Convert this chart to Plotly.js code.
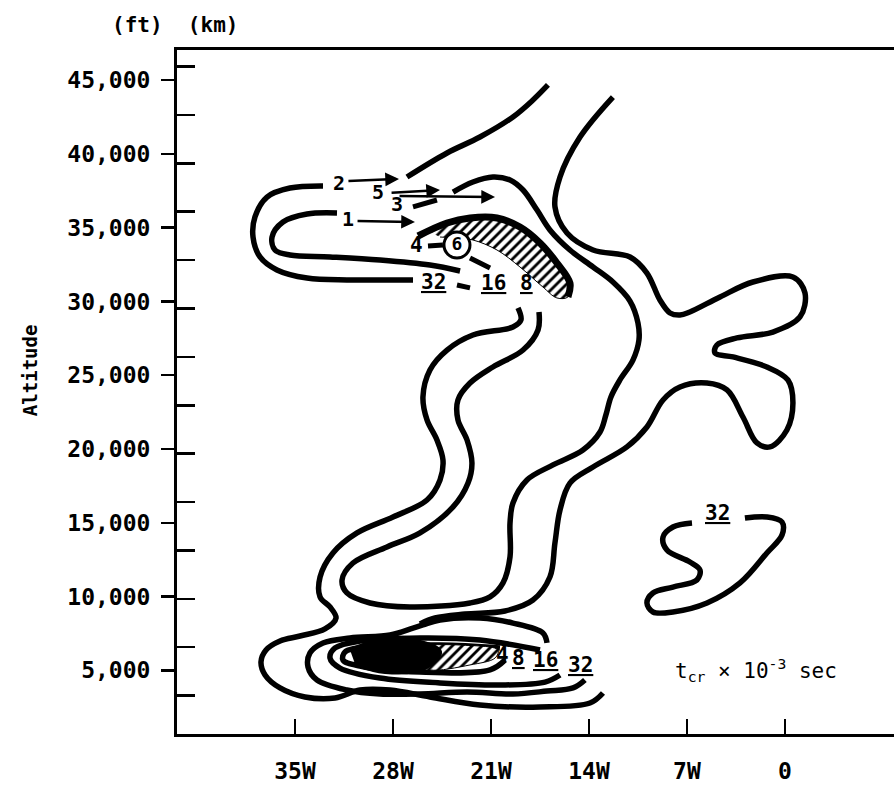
<!DOCTYPE html>
<html><head><meta charset="utf-8">
<script src="https://cdn.plot.ly/plotly-3.0.1.min.js"></script>
<style>html,body{margin:0;padding:0;background:#fff}#chart{width:894px;height:785px}</style>
</head><body><div id="chart"></div>
<script>
// ---------- axis ticks ----------
const lonTicks = [-35, -28, -21, -14, -7, 0];
const lonLabels = ['35W', '28W', '21W', '14W', '7W', '0'];
const altTicks = [5, 10, 15, 20, 25, 30, 35, 40, 45];          // thousand ft
const altLabels = ['5,000', '10,000', '15,000', '20,000', '25,000', '30,000', '35,000', '40,000', '45,000'];
const kmTicks = [1, 2, 3, 4, 5, 6, 7, 8, 9, 10, 11, 12, 13, 14];

// ---------- contour strokes (longitude deg, altitude thousand ft) ----------
const topArcLon = [-27.0, -24.14, -21.79, -19.43, -18.0, -16.93];
const topArcAlt = [38.44, 40.07, 41.15, 42.51, 43.66, 44.68];

const hook32Lon = [-33.0, -35.36, -37.0, -37.86, -38.0, -37.5, -36.29, -34.14, -31.29, -28.93, -26.57];
const hook32Alt = [37.83, 37.69, 37.08, 35.73, 34.37, 33.02, 32.14, 31.59, 31.46, 31.46, 31.46];

const hook16Lon = [-32.0, -34.14, -35.86, -36.64, -36.43, -35.36, -32.5, -28.93, -25.36, -23.21];
const hook16Alt = [36.0, 35.93, 35.39, 34.37, 33.49, 33.15, 33.02, 32.81, 32.47, 32.07];

const core8Lon = [-23.71, -22.29, -20.86, -19.64, -18.71, -17.71, -16.79, -15.36, -13.71, -12.29, -11.07, -10.5, -10.43, -10.86, -11.79, -12.43, -12.79, -13.21, -14.43, -16.57, -18.43, -19.43, -19.64, -19.64, -20.14, -21.07, -22.5, -26.79, -29.64, -31.29, -31.64, -30.86, -28.43, -26.07, -23.71, -22.64, -22.36, -22.71, -23.36, -23.36, -22.5, -20.86, -18.71, -17.64, -17.57];
const core8Alt = [37.42, 38.10, 38.44, 38.24, 37.56, 36.20, 34.85, 33.49, 32.34, 31.32, 30.03, 28.54, 27.39, 26.03, 24.68, 23.53, 22.31, 21.15, 19.93, 18.92, 17.90, 16.34, 14.98, 12.68, 10.92, 9.97, 9.56, 9.29, 9.56, 10.24, 11.12, 12.27, 13.36, 14.31, 16.07, 17.69, 19.05, 20.61, 21.97, 23.32, 24.47, 25.56, 26.71, 28.07, 29.29];

const west16Lon = [-19.07, -18.86, -19.43, -22.29, -24.14, -25.36, -25.86, -25.57, -24.86, -24.43, -24.64, -25.57, -28.0, -30.57, -32.29, -33.21, -33.21, -32.5, -32.07, -32.86, -34.64, -36.07, -37.07, -37.43, -37.14, -36.07, -34.29, -32.14, -30.36, -28.21, -25.36, -21.79, -17.5, -13.93, -13.0];
const west16Alt = [29.56, 28.75, 28.27, 27.73, 26.71, 25.36, 23.53, 21.97, 20.61, 19.25, 17.90, 16.54, 15.39, 14.31, 12.95, 11.32, 9.97, 9.29, 8.54, 7.80, 7.32, 6.98, 6.37, 5.56, 4.68, 3.80, 3.19, 3.12, 3.66, 3.66, 3.19, 2.64, 2.51, 2.78, 3.46];

const east32Lon = [-12.29, -14.64, -16.07, -16.43, -15.57, -13.71, -11.07, -9.86, -8.93, -8.21, -7.5, -6.79, -4.64, -2.29, 0.57, 1.43, 1.07, -0.86, -3.43, -4.86, -5.0, -3.71, -1.29, 0.21, 0.57, 0.14, -1.07, -2.0, -3.0, -4.14, -5.57, -7.5, -8.71, -9.86, -11.29, -13.71, -15.36, -16.07, -16.43, -16.79, -18.0, -20.0, -22.86, -25.0, -26.07];
const east32Alt = [43.86, 41.15, 38.44, 36.41, 34.64, 33.49, 33.02, 31.93, 30.10, 29.22, 29.08, 29.29, 30.31, 31.32, 31.66, 30.58, 28.95, 27.93, 27.53, 27.05, 26.51, 26.24, 25.56, 24.68, 23.12, 21.29, 20.14, 20.41, 22.17, 24.0, 24.47, 24.20, 23.32, 21.49, 20.14, 18.78, 17.69, 15.86, 13.63, 11.32, 9.76, 9.02, 8.81, 8.54, 8.14];

const low16Lon = [-14.29, -15.14, -17.0, -19.43, -22.71, -26.07, -28.93, -31.29, -33.43, -34.07, -33.93, -33.0, -31.07, -28.21, -26.57, -25.86, -24.64, -21.79, -19.43, -17.29, -17.0];
const low16Alt = [4.34, 3.80, 3.59, 3.39, 3.53, 3.39, 3.39, 3.66, 4.34, 5.22, 6.17, 6.85, 7.19, 7.39, 7.86, 8.07, 8.41, 8.54, 8.20, 7.53, 6.85];

const low8Lon = [-17.5, -21.79, -26.07, -30.36, -32.14, -32.5, -31.79, -28.93, -24.64, -20.36, -17.14, -16.07];
const low8Alt = [6.37, 7.05, 7.19, 6.98, 6.51, 5.83, 5.15, 4.47, 4.14, 4.0, 4.20, 4.68];

const low4Lon = [-20.36, -24.64, -29.64, -31.43, -31.57, -30.36, -26.07, -21.07, -20.0];
const low4Alt = [6.51, 6.71, 6.58, 6.24, 5.69, 5.29, 4.88, 5.02, 5.69];

const isle32Lon = [-6.64, -8.0, -8.71, -8.43, -6.79, -6.07, -6.29, -8.0, -9.43, -9.86, -9.43, -8.0, -5.57, -3.21, -1.29, -0.21, -0.21, -1.29, -2.86];
const isle32Alt = [14.98, 14.71, 14.03, 13.15, 12.34, 11.80, 11.12, 10.64, 10.24, 9.56, 8.95, 8.95, 9.56, 10.92, 12.95, 14.17, 15.05, 15.39, 15.32];

// short contour fragments [lon0, lon1], [alt0, alt1]
const dashLon = [[-26.57, -24.86], [-25.5, -24.43], [-22.5, -21.07], [-23.43, -22.5]];
const dashAlt = [[36.41, 36.88], [33.76, 33.83], [32.95, 32.27], [31.12, 30.92]];

// hatched minimum regions
const hatchUpLon = [-25.36, -24.14, -22.5, -20.57, -18.93, -17.5, -16.29, -15.36, -15.5, -16.29, -17.29, -18.93, -20.57, -22.29, -23.57, -24.64];
const hatchUpAlt = [34.71, 35.32, 35.66, 35.66, 35.05, 33.97, 32.61, 31.25, 30.31, 30.24, 30.98, 32.34, 33.49, 34.17, 34.31, 34.37];
const hatchEdgeLon = [-26.21, -24.14, -22.5, -20.57, -18.93, -17.5, -16.29, -15.36, -15.5];
const hatchEdgeAlt = [34.44, 35.32, 35.66, 35.66, 35.05, 33.97, 32.61, 31.25, 30.31];
const hatchLowLon = [-26.07, -23.21, -20.5, -20.71, -22.5, -25.36, -26.07];
const hatchLowAlt = [6.71, 6.71, 6.37, 5.83, 5.36, 5.02, 5.36];
const blobLowLon = [-31.07, -29.29, -26.07, -24.64, -25.71, -28.57, -30.71];
const blobLowAlt = [6.37, 6.92, 6.92, 6.24, 5.15, 4.88, 5.42];

// flight tracks
const trackIds = ['1', '2', '5', '3'];
const trackTailLon = [-30.64, -31.29, -28.21, -27.64];
const trackTailAlt = [35.46, 38.17, 37.36, 37.15];
const trackTipLon = [-26.43, -27.57, -24.64, -20.71];
const trackTipAlt = [35.39, 38.31, 37.56, 37.08];
const trackLabelLon = [-31.21, -31.86, -29.07, -27.71];
const trackLabelAlt = [35.59, 38.03, 37.42, 36.61];

// contour value labels
const valText = ['<u>32</u>', '<u>16</u>', '<u>8</u>', '4', '4', '<u>8</u>', '<u>16</u>', '<u>32</u>', '<u>32</u>'];
const valLon = [-25.14, -20.79, -18.43, -26.29, -20.21, -19.07, -17.14, -14.57, -4.79];
const valAlt = [31.32, 31.25, 31.25, 33.83, 6.03, 5.83, 5.69, 5.36, 15.66];
const circleLon = [-23.43];
const circleAlt = [33.83];
const circleText = ['6'];

// ---------- build ----------
const FONT = 'DejaVu Sans Mono, Liberation Mono, monospace';
const LW = 5.5;
function stroke(x, y, w) {
  return {x: x, y: y, type: 'scatter', mode: 'lines', hoverinfo: 'skip', showlegend: false,
          line: {color: '#000', width: w || LW, shape: 'spline', smoothing: 1}};
}
function hatch(x, y) {
  return {x: x, y: y, type: 'scatter', mode: 'lines', fill: 'toself', hoverinfo: 'skip', showlegend: false,
          line: {color: '#000', width: 1, shape: 'spline'}, fillcolor: 'rgba(0,0,0,0)',
          fillpattern: {shape: '/', fgcolor: '#000', bgcolor: '#fff', size: 7, solidity: 0.4}};
}
const traces = [
  stroke(topArcLon, topArcAlt),
  stroke(hook32Lon, hook32Alt),
  stroke(hook16Lon, hook16Alt),
  stroke(core8Lon, core8Alt),
  stroke(west16Lon, west16Alt),
  stroke(east32Lon, east32Alt),
  stroke(low16Lon, low16Alt),
  stroke(low8Lon, low8Alt),
  stroke(low4Lon, low4Alt),
  stroke(isle32Lon, isle32Alt),
  hatch(hatchUpLon, hatchUpAlt),
  stroke(hatchEdgeLon, hatchEdgeAlt, 7),
  hatch(hatchLowLon, hatchLowAlt),
  {x: blobLowLon, y: blobLowAlt, type: 'scatter', mode: 'lines', fill: 'toself', fillcolor: '#000',
   line: {color: '#000', width: 4, shape: 'spline'}, hoverinfo: 'skip', showlegend: false}
];
for (let i = 0; i < dashLon.length; i++) traces.push(stroke(dashLon[i], dashAlt[i], 5));
traces.push({x: circleLon, y: circleAlt, text: circleText, type: 'scatter', mode: 'markers+text',
  marker: {size: 26, color: '#fff', line: {color: '#000', width: 3}},
  textfont: {family: FONT, size: 18, color: '#000', weight: 'bold'}, textposition: 'middle center',
  hoverinfo: 'skip', showlegend: false, cliponaxis: false});

const annotations = [];
for (let i = 0; i < trackIds.length; i++) {
  annotations.push({x: trackTipLon[i], y: trackTipAlt[i], ax: trackTailLon[i], ay: trackTailAlt[i],
    xref: 'x', yref: 'y', axref: 'x', ayref: 'y', text: '', showarrow: true,
    arrowhead: 2, arrowsize: 1.1, arrowwidth: 2.5, arrowcolor: '#000'});
  annotations.push({x: trackLabelLon[i], y: trackLabelAlt[i], xref: 'x', yref: 'y', text: trackIds[i],
    showarrow: false, font: {family: FONT, size: 20, color: '#000', weight: 'bold'}});
}
for (let i = 0; i < valText.length; i++) {
  annotations.push({x: valLon[i], y: valAlt[i], xref: 'x', yref: 'y', text: valText[i], showarrow: false,
    font: {family: FONT, size: 21, color: '#000', weight: 'bold'}});
}
annotations.push({x: -0.003, y: 1.0365, xref: 'paper', yref: 'paper', text: '(ft)  (km)', showarrow: false,
  xanchor: 'center', yanchor: 'middle', font: {family: FONT, size: 21, color: '#000', weight: 'bold'}});
annotations.push({x: -0.205, y: 0.532, xref: 'paper', yref: 'paper', text: 'Altitude', textangle: -90, showarrow: false,
  xanchor: 'center', yanchor: 'middle', font: {family: FONT, size: 19, color: '#000', weight: 'bold'}});
annotations.push({x: 0.8075, y: 0.0936, xref: 'paper', yref: 'paper', text: 't<sub>cr</sub> × 10<sup>-3</sup> sec', showarrow: false,
  xanchor: 'center', yanchor: 'middle', font: {family: FONT, size: 21, color: '#000'}});

const altRange = [0.678, 47.05];
const layout = {
  width: 894, height: 785, margin: {l: 177, r: 0, t: 50, b: 51},
  paper_bgcolor: '#fff', plot_bgcolor: '#fff', showlegend: false,
  xaxis: {range: [-43.43, 7.79], showgrid: false, zeroline: false, showline: true, mirror: true,
    linecolor: '#000', linewidth: 3, ticks: 'inside', ticklen: 15, tickwidth: 2.5, tickcolor: '#000',
    tickvals: lonTicks, ticktext: lonLabels, ticklabelstandoff: 14,
    tickfont: {family: FONT, size: 23, color: '#000', weight: 'bold'}},
  yaxis: {range: altRange, showgrid: false, zeroline: false, showline: true, mirror: false,
    linecolor: '#000', linewidth: 3, ticks: 'outside', ticklen: 13, tickwidth: 2.5, tickcolor: '#000',
    tickvals: altTicks, ticktext: altLabels, ticklabelstandoff: 6,
    tickfont: {family: FONT, size: 23, color: '#000', weight: 'bold'}},
  yaxis2: {range: altRange.map(v => v * 0.3048), overlaying: 'y', side: 'left', showgrid: false, zeroline: false,
    showline: false, ticks: 'inside', ticklen: 18, tickwidth: 2.5, tickcolor: '#000', tickvals: kmTicks,
    showticklabels: false},
  annotations: annotations
};
traces.push({x: [null], y: [null], yaxis: 'y2', type: 'scatter', showlegend: false, hoverinfo: 'skip'});
Plotly.newPlot('chart', traces, layout, {displayModeBar: false, staticPlot: true});
</script></body></html>
